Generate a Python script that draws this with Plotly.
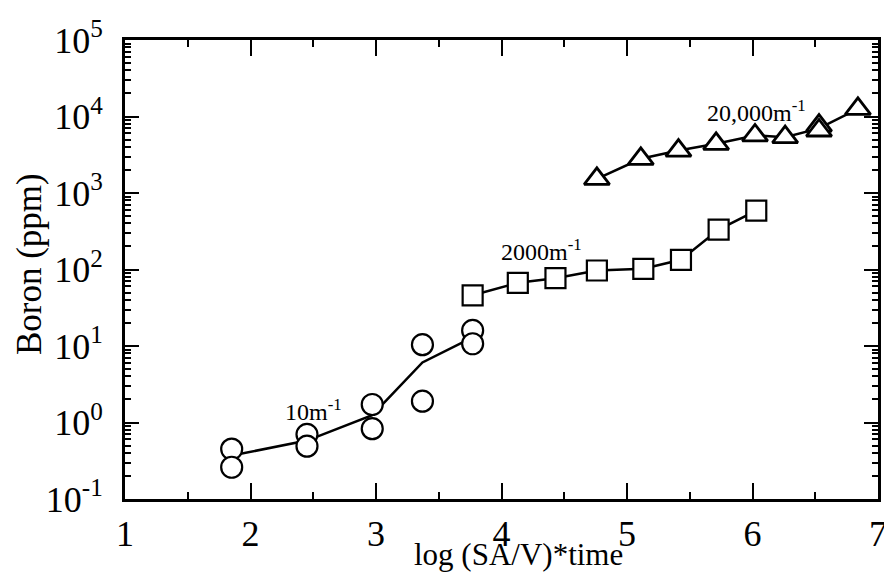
import math
import plotly.graph_objects as go

# ---- data ----
circ_x = [1.85, 1.85, 2.45, 2.45, 2.97, 2.97, 3.37, 3.37, 3.77, 3.77]
circ_y = [0.45, 0.26, 0.70, 0.49, 1.72, 0.83, 10.4, 1.9, 16.0, 10.7]
circ_line_x = [1.85, 2.45, 2.97, 3.37, 3.77]
circ_line_y = [0.37, 0.58, 1.25, 6.1, 13.0]

sq_x = [3.77, 4.13, 4.43, 4.76, 5.13, 5.43, 5.73, 6.03]
sq_y = [46, 67, 77, 97, 102, 134, 333, 590]

tri_x = [4.76, 5.11, 5.41, 5.71, 6.02, 6.26, 6.53, 6.53, 6.84]
tri_y = [1530, 2800, 3590, 4400, 5650, 5370, 7600, 6560, 12600]
tri_line_x = [4.76, 5.11, 5.41, 5.71, 6.02, 6.26, 6.53, 6.84]
tri_line_y = [1530, 2800, 3590, 4400, 5650, 5370, 7000, 12600]

labels = ["10m<sup>-1</sup>", "2000m<sup>-1</sup>", "20,000m<sup>-1</sup>"]
label_x = [2.50, 4.32, 6.03]
label_y = [1.45, 178, 11700]

x_ticks = [1, 2, 3, 4, 5, 6, 7]
y_ticks = [0.1, 1, 10, 100, 1000, 10000, 100000]
y_tick_text = ["10<sup>-1</sup>", "10<sup>0</sup>", "10<sup>1</sup>", "10<sup>2</sup>",
               "10<sup>3</sup>", "10<sup>4</sup>", "10<sup>5</sup>"]

FONT = "Liberation Serif"

fig = go.Figure()

line_style = dict(color="black", width=2.5)
fig.add_trace(go.Scatter(x=circ_line_x, y=circ_line_y, mode="lines", line=line_style,
                         showlegend=False, hoverinfo="skip"))
fig.add_trace(go.Scatter(x=sq_x, y=sq_y, mode="lines", line=line_style,
                         showlegend=False, hoverinfo="skip"))
fig.add_trace(go.Scatter(x=tri_line_x, y=tri_line_y, mode="lines", line=line_style,
                         showlegend=False, hoverinfo="skip"))

fig.add_trace(go.Scatter(x=circ_x, y=circ_y, mode="markers", showlegend=False,
                         marker=dict(symbol="circle", size=21, color="white",
                                     line=dict(color="black", width=2.2))))
fig.add_trace(go.Scatter(x=sq_x, y=sq_y, mode="markers", showlegend=False,
                         marker=dict(symbol="square", size=20, color="white",
                                     line=dict(color="black", width=2.2))))
fig.add_trace(go.Scatter(x=tri_x, y=tri_y, mode="markers", showlegend=False,
                         marker=dict(symbol="triangle-up", size=22, color="white",
                                     line=dict(color="black", width=2.8))))

for t, lx, ly in zip(labels, label_x, label_y):
    fig.add_annotation(x=lx, y=math.log10(ly), xref="x", yref="y", text=t,
                       showarrow=False,
                       font=dict(family=FONT, size=24, color="black"))

# axis titles
fig.add_annotation(xref="paper", yref="paper", x=0.522, y=-0.12, text="log (SA/V)*time",
                   showarrow=False, xanchor="center", yanchor="middle",
                   font=dict(family=FONT, size=31, color="black"))
fig.add_annotation(xref="paper", yref="paper", x=-0.126, y=0.512, text="Boron (ppm)",
                   showarrow=False, textangle=-90, xanchor="center", yanchor="middle",
                   font=dict(family=FONT, size=35, color="black"))

minor_y = [m * 10 ** e for e in range(-1, 5) for m in range(2, 10)]

fig.update_xaxes(range=[1, 7], tickvals=x_ticks, ticks="inside", ticklen=16, tickwidth=2,
                 tickcolor="black", showline=True, linewidth=3, linecolor="black",
                 mirror="allticks", showgrid=False, zeroline=False, automargin=False,
                 tickfont=dict(family=FONT, size=36, color="black"),
                 ticklabelstandoff=1, ticklabeloverflow="allow",
                 minor=dict(tickvals=[1.5, 2.5, 3.5, 4.5, 5.5, 6.5], ticks="inside",
                            ticklen=7, tickwidth=2, tickcolor="black", showgrid=False))
fig.update_yaxes(type="log", range=[-1, 5], tickvals=y_ticks, ticktext=y_tick_text,
                 ticks="inside", ticklen=14, tickwidth=2, tickcolor="black",
                 showline=True, linewidth=3, linecolor="black", mirror="allticks",
                 showgrid=False, zeroline=False, automargin=False,
                 tickfont=dict(family=FONT, size=36, color="black"),
                 ticklabelstandoff=12, ticklabeloverflow="allow",
                 minor=dict(tickvals=minor_y, ticks="inside", ticklen=6, tickwidth=2,
                            tickcolor="black", showgrid=False))

fig.update_layout(width=884, height=582, plot_bgcolor="white", paper_bgcolor="white",
                  margin=dict(l=125, r=6, t=40, b=83, pad=0), showlegend=False)

fig.write_html("out.html", config={"displayModeBar": False},
               post_script="document.body.style.margin='0';document.body.style.overflow='hidden';")
